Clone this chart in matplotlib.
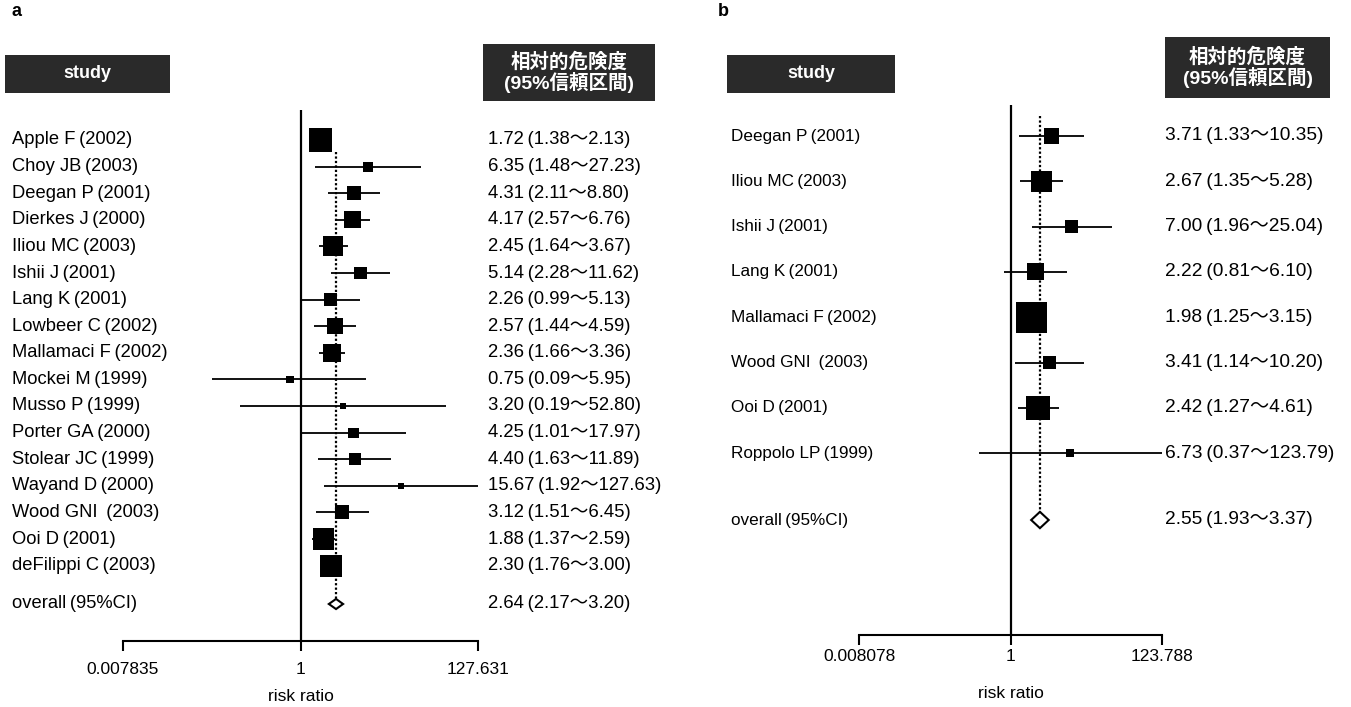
import numpy as np
import matplotlib
matplotlib.use('Agg')
import matplotlib.pyplot as plt
import matplotlib.transforms as mtransforms
from matplotlib.patches import Rectangle, Polygon

plt.rcParams['font.family'] = ['Liberation Sans', 'Noto Sans CJK JP', 'DejaVu Sans']

# %%
# Data (panel a)
studies_a = ['Apple F', 'Choy JB', 'Deegan P', 'Dierkes J', 'Iliou MC', 'Ishii J',
             'Lang K', 'Lowbeer C', 'Mallamaci F', 'Mockei M', 'Musso P', 'Porter GA',
             'Stolear JC', 'Wayand D', 'Wood GNI ', 'Ooi D', 'deFilippi C']
years_a = [2002, 2003, 2001, 2000, 2003, 2001, 2001, 2002, 2002, 1999, 1999, 2000,
           1999, 2000, 2003, 2001, 2003]
rr_a = [1.72, 6.35, 4.31, 4.17, 2.45, 5.14, 2.26, 2.57, 2.36, 0.75, 3.20, 4.25, 4.40,
        15.67, 3.12, 1.88, 2.30]
lo_a = [1.38, 1.48, 2.11, 2.57, 1.64, 2.28, 0.99, 1.44, 1.66, 0.09, 0.19, 1.01, 1.63,
        1.92, 1.51, 1.37, 1.76]
hi_a = [2.13, 27.23, 8.80, 6.76, 3.67, 11.62, 5.13, 4.59, 3.36, 5.95, 52.80, 17.97,
        11.89, 127.63, 6.45, 2.59, 3.00]
weight_a = [13.5, 2.6, 5.0, 7.4, 10.2, 4.3, 4.3, 6.5, 8.3, 1.3, 0.9, 2.6, 3.7, 0.9,
            5.0, 11.3, 12.4]
overall_a = [2.64, 2.17, 3.20]
xlim_a = [0.007835, 127.631]
xticklabels_a = ['0.007835', '1', '127.631']

# Data (panel b)
studies_b = ['Deegan P', 'Iliou MC', 'Ishii J', 'Lang K', 'Mallamaci F', 'Wood GNI ',
             'Ooi D', 'Roppolo LP']
years_b = [2001, 2003, 2001, 2001, 2002, 2003, 2001, 1999]
rr_b = [3.71, 2.67, 7.00, 2.22, 1.98, 3.41, 2.42, 6.73]
lo_b = [1.33, 1.35, 1.96, 0.81, 1.25, 1.14, 1.27, 0.37]
hi_b = [10.35, 5.28, 25.04, 6.10, 3.15, 10.20, 4.61, 123.79]
weight_b = [7.8, 15.2, 5.8, 10.0, 33.2, 5.8, 19.9, 2.2]
overall_b = [2.55, 1.93, 3.37]
xlim_b = [0.008078, 123.788]
xticklabels_b = ['0.008078', '1', '123.788']

W, H = 1351, 707
TS = '\u2009'  # thin space, the scan shows a small gap before the brackets
fig = plt.figure(figsize=(W / 100, H / 100), dpi=100)


def fx(px):
    return px / W


def fy(py):
    return 1 - py / H


def header(x0, y0, x1, y1, text, size):
    fig.add_artist(Rectangle((fx(x0), fy(y1)), fx(x1) - fx(x0), (y1 - y0) / H,
                             transform=fig.transFigure, color='#2a2a2a', lw=0))
    fig.text(fx((x0 + x1) / 2), fy((y0 + y1) / 2), text, color='white', ha='center',
             va='center', fontsize=size, fontweight='bold', linespacing=1.0)


def forest(left, right, top, bottom, row0, step, overall_px, label_x, value_x,
           studies, years, rr, lo, hi, weight, overall, xlim, xticklabels, box_k,
           dot_start, diam_h, tick_pad, label_pad, fs_label, fs_value):
    ax = fig.add_axes([fx(left), fy(bottom), fx(right) - fx(left), (bottom - top) / H])
    ax.set_xscale('log')
    ax.set_xlim(xlim)
    ax.set_ylim((bottom - row0) / step, (top - row0) / step)
    y = np.arange(len(studies))
    y_all = (overall_px - row0) / step

    ax.axvline(1, color='black', lw=1.6, zorder=1)
    ax.plot([overall[0], overall[0]], [dot_start, y_all - diam_h], color='black',
            lw=1.6, ls=(0, (1.0, 1.0)), zorder=1)
    ax.hlines(y, lo, hi, color='black', lw=1.3, zorder=2)
    sizes = (box_k * np.sqrt(weight) * 0.72) ** 2
    ax.scatter(rr, y, s=sizes, marker='s', color='black', zorder=3, lw=0)
    ax.add_patch(Polygon([[overall[1], y_all], [overall[0], y_all - diam_h],
                          [overall[2], y_all], [overall[0], y_all + diam_h]],
                         closed=True, facecolor='white', edgecolor='black', lw=1.5,
                         zorder=3))

    for s in ['top', 'left', 'right']:
        ax.spines[s].set_visible(False)
    ax.spines['bottom'].set_linewidth(1.5)
    ax.set_yticks([])
    ax.set_xticks([xlim[0], 1, xlim[1]])
    ax.set_xticklabels(xticklabels, fontsize=12.5)
    ax.xaxis.set_minor_locator(matplotlib.ticker.NullLocator())
    ax.tick_params(axis='x', direction='out', length=7, width=1.5, pad=tick_pad)
    ax.set_xlabel('risk ratio', fontsize=12.5, labelpad=label_pad)

    tr = mtransforms.blended_transform_factory(fig.transFigure, ax.transData)
    for i, name in enumerate(studies):
        ax.text(fx(label_x), i, f'{name}{TS}({years[i]})', transform=tr, ha='left',
                va='center', fontsize=fs_label, clip_on=False)
        ax.text(fx(value_x), i, f'{rr[i]:.2f}{TS}({lo[i]:.2f}〜{hi[i]:.2f})',
                transform=tr, ha='left', va='center', fontsize=fs_value, clip_on=False)
    ax.text(fx(label_x), y_all, f'overall{TS}(95%CI)', transform=tr, ha='left',
            va='center', fontsize=fs_label, clip_on=False)
    ax.text(fx(value_x), y_all,
            f'{overall[0]:.2f}{TS}({overall[1]:.2f}〜{overall[2]:.2f})',
            transform=tr, ha='left', va='center', fontsize=fs_value, clip_on=False)
    return ax


# %%
# Panel a
fig.text(fx(12), fy(12), 'a', fontsize=13, fontweight='bold', ha='left', va='center')
header(5, 55, 170, 93, 'study', 13)
header(483, 44, 655, 101, '相対的危険度\n(95%信頼区間)', 14)
forest(123, 478, 110, 641, 140, 26.6, 604, 12, 488, studies_a, years_a, rr_a, lo_a,
       hi_a, weight_a, overall_a, xlim_a, xticklabels_a, 6.26, 0.45, 0.19, 8, 9,
       13.2, 13.3)

# Panel b
fig.text(fx(718), fy(12), 'b', fontsize=13, fontweight='bold', ha='left', va='center')
header(727, 55, 895, 93, 'study', 13)
header(1165, 37, 1330, 98, '相対的危険度\n(95%信頼区間)', 14)
forest(859, 1162, 105, 635, 136, 45.3, 520, 731, 1165, studies_b, years_b, rr_b, lo_b,
       hi_b, weight_b, overall_b, xlim_b, xticklabels_b, 5.38, -0.44, 0.18, 3, 16,
       12.3, 13.8)

plt.savefig('out.png', dpi=100)
